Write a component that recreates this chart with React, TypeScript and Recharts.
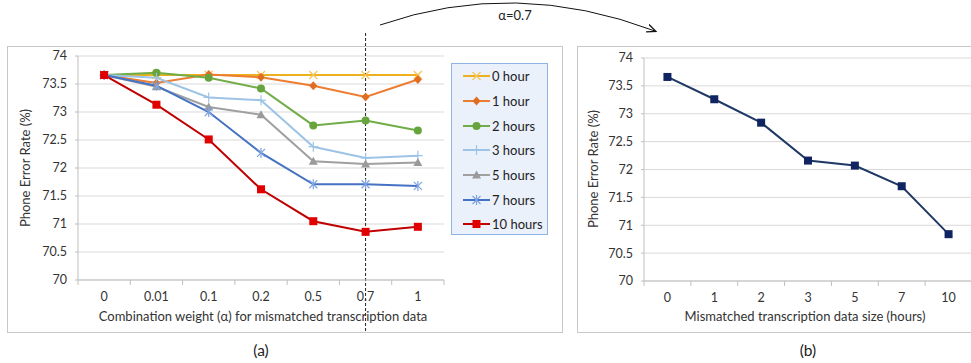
import React from "react";
import { LineChart, Line, XAxis, YAxis, CartesianGrid, ReferenceLine } from "recharts";

const FONT = "Lato, 'Open Sans', sans-serif";

// (a) phone error rate vs combination weight
const alphaLabels = ["0", "0.01", "0.1", "0.2", "0.5", "0.7", "1"];
const hours0 = [73.66, 73.66, 73.66, 73.66, 73.66, 73.66, 73.66];
const hours1 = [73.66, 73.52, 73.67, 73.62, 73.47, 73.27, 73.58];
const hours2 = [73.66, 73.7, 73.61, 73.42, 72.76, 72.85, 72.67];
const hours3 = [73.66, 73.61, 73.26, 73.21, 72.38, 72.18, 72.22];
const hours5 = [73.66, 73.45, 73.09, 72.95, 72.12, 72.07, 72.1];
const hours7 = [73.66, 73.47, 73.0, 72.27, 71.71, 71.71, 71.68];
const hours10 = [73.66, 73.13, 72.51, 71.62, 71.05, 70.86, 70.95];

// (b) phone error rate at alpha = 0.7 vs data size
const sizeLabels = ["0", "1", "2", "3", "5", "7", "10"];
const perAtBest = [73.66, 73.26, 72.84, 72.16, 72.07, 71.7, 70.84];

const yTicks = [70, 70.5, 71, 71.5, 72, 72.5, 73, 73.5, 74];

type MarkerType = "x" | "diamond" | "circle" | "plus" | "triangle" | "star" | "square";

const series: { key: string; name: string; values: number[]; color: string; markColor: string; marker: MarkerType }[] = [
  { key: "h0", name: "0 hour", values: hours0, color: "#EDB120", markColor: "#F5C55A", marker: "x" },
  { key: "h1", name: "1 hour", values: hours1, color: "#ED7D31", markColor: "#E06E22", marker: "diamond" },
  { key: "h2", name: "2 hours", values: hours2, color: "#70AD47", markColor: "#67A43E", marker: "circle" },
  { key: "h3", name: "3 hours", values: hours3, color: "#9DC3E6", markColor: "#9DC3E6", marker: "plus" },
  { key: "h5", name: "5 hours", values: hours5, color: "#A0A0A0", markColor: "#9A9A9A", marker: "triangle" },
  { key: "h7", name: "7 hours", values: hours7, color: "#4472C4", markColor: "#7FA3E0", marker: "star" },
  { key: "h10", name: "10 hours", values: hours10, color: "#C00000", markColor: "#E00000", marker: "square" },
];

const dataA = alphaLabels.map((a, i) => {
  const row: Record<string, string | number> = { alpha: a };
  series.forEach((s) => (row[s.key] = s.values[i]));
  return row;
});

const dataB = sizeLabels.map((s, i) => ({ size: s, per: perAtBest[i] }));

// plot widths, used for Excel-like category spacing
const PLOT_A = 366;
const PLOT_B = 328;
const stepA = PLOT_A / alphaLabels.length;
const stepB = PLOT_B / sizeLabels.length;

function Marker({ type, cx, cy, color }: { type: MarkerType; cx: number; cy: number; color: string }) {
  switch (type) {
    case "x":
      return (
        <g stroke={color} strokeWidth={1.3}>
          <line x1={cx - 4} y1={cy - 4} x2={cx + 4} y2={cy + 4} />
          <line x1={cx - 4} y1={cy + 4} x2={cx + 4} y2={cy - 4} />
        </g>
      );
    case "diamond":
      return <polygon points={`${cx},${cy - 4.5} ${cx + 4},${cy} ${cx},${cy + 4.5} ${cx - 4},${cy}`} fill={color} />;
    case "circle":
      return <circle cx={cx} cy={cy} r={4} fill={color} />;
    case "plus":
      return (
        <g stroke={color} strokeWidth={1.2}>
          <line x1={cx - 5} y1={cy} x2={cx + 5} y2={cy} />
          <line x1={cx} y1={cy - 5} x2={cx} y2={cy + 5} />
        </g>
      );
    case "triangle":
      return <polygon points={`${cx},${cy - 4.5} ${cx + 4.5},${cy + 3.5} ${cx - 4.5},${cy + 3.5}`} fill={color} />;
    case "star":
      return (
        <g stroke={color} strokeWidth={1.2}>
          <line x1={cx - 4} y1={cy - 4} x2={cx + 4} y2={cy + 4} />
          <line x1={cx - 4} y1={cy + 4} x2={cx + 4} y2={cy - 4} />
          <line x1={cx} y1={cy - 5} x2={cx} y2={cy + 5} />
        </g>
      );
    default:
      return <rect x={cx - 4} y={cy - 4} width={8} height={8} fill={color} />;
  }
}

// category ticks with boundary tick marks
function bandTick(step: number, count: number, margin: number) {
  return (props: any) => {
    const { x, y, payload, index } = props;
    const axisY = y - margin;
    return (
      <g>
        <line x1={x - step / 2} x2={x - step / 2} y1={axisY} y2={axisY + 5} stroke="#BFBFBF" />
        {index === count - 1 && <line x1={x + step / 2} x2={x + step / 2} y1={axisY} y2={axisY + 5} stroke="#BFBFBF" />}
        <text x={x} y={y} dy="0.71em" textAnchor="middle" fill="#333" fontSize={12.5} fontFamily={FONT}>
          {payload.value}
        </text>
      </g>
    );
  };
}

function LegendBox() {
  return (
    <div
      style={{
        position: "absolute",
        left: 451,
        top: 63,
        width: 97,
        height: 172,
        boxSizing: "border-box",
        background: "#EBF1FA",
        border: "1px solid #8EB4E3",
        paddingTop: 0,
        paddingLeft: 11,
        fontFamily: FONT,
        fontSize: 13,
        color: "#222",
      }}
    >
      {series.map((s) => (
        <div key={s.key} style={{ height: 24.7, display: "flex", alignItems: "center" }}>
          <svg width={28} height={12} style={{ marginRight: 1 }}>
            <line x1={0} x2={27} y1={6} y2={6} stroke={s.color} strokeWidth={2} />
            <Marker type={s.marker} cx={13.5} cy={6} color={s.markColor} />
          </svg>
          <span>{s.name}</span>
        </div>
      ))}
    </div>
  );
}

const axisText = { fill: "#333", fontSize: 12.5, fontFamily: FONT };

export default function App() {
  return (
    <div style={{ position: "absolute", left: 0, top: 0, width: 971, height: 363, overflow: "hidden", background: "#fff" }}>
      <svg width={971} height={363} style={{ position: "absolute", left: 0, top: 0 }}>
        <rect x={7.5} y={46.5} width={555} height={286} fill="none" stroke="#C8C8C8" />
        <rect x={577.5} y={46.5} width={420} height={286} fill="none" stroke="#C8C8C8" />
      </svg>

      <div style={{ position: "absolute", left: 0, top: 0 }}>
        <LineChart width={562} height={363} data={dataA} margin={{ top: 56, right: 118, bottom: 53, left: 0 }}>
          <CartesianGrid vertical={false} stroke="#D9D9D9" />
          <XAxis
            dataKey="alpha"
            stroke="#BFBFBF"
            tickLine={false}
            tickSize={0}
            tickMargin={12}
            height={30}
            interval={0}
            padding={{ left: stepA / 2, right: stepA / 2 }}
            tick={bandTick(stepA, alphaLabels.length, 12)}
          />
          <YAxis
            domain={[70, 74]}
            ticks={yTicks}
            width={78}
            stroke="#BFBFBF"
            tickSize={3}
            tickMargin={8}
            tick={axisText}
          />
          <ReferenceLine
            x="0.7"
            shape={(p: any) => (
              <line x1={p.x1} x2={p.x2} y1={33} y2={333} stroke="#222" strokeWidth={1} strokeDasharray="3 2" />
            )}
          />
          {series.map((s) => (
            <Line
              key={s.key}
              dataKey={s.key}
              name={s.name}
              stroke={s.color}
              strokeWidth={2}
              isAnimationActive={false}
              dot={(p: any) => <Marker key={`${s.key}-${p.index}`} type={s.marker} cx={p.cx} cy={p.cy} color={s.markColor} />}
              activeDot={false}
            />
          ))}
        </LineChart>
      </div>
      <LegendBox />

      <div style={{ position: "absolute", left: 577, top: 0 }}>
        <LineChart width={396} height={363} data={dataB} margin={{ top: 58, right: 1, bottom: 52, left: 0 }}>
          <CartesianGrid vertical={false} stroke="#D9D9D9" />
          <XAxis
            dataKey="size"
            stroke="#BFBFBF"
            tickLine={false}
            tickSize={0}
            tickMargin={12}
            height={30}
            interval={0}
            padding={{ left: stepB / 2, right: stepB / 2 }}
            tick={bandTick(stepB, sizeLabels.length, 12)}
          />
          <YAxis
            domain={[70, 74]}
            ticks={yTicks}
            width={67}
            stroke="#BFBFBF"
            tickSize={3}
            tickMargin={8}
            tick={axisText}
          />
          <Line
            dataKey="per"
            stroke="#1F3864"
            strokeWidth={2}
            isAnimationActive={false}
            dot={(p: any) => <Marker key={`b-${p.index}`} type="square" cx={p.cx} cy={p.cy} color="#0F2460" />}
            activeDot={false}
          />
        </LineChart>
      </div>

      <svg width={971} height={363} style={{ position: "absolute", left: 0, top: 0, pointerEvents: "none" }} fontFamily={FONT}>
        <defs>
          <marker id="arrowHead" markerWidth={10} markerHeight={10} refX={8} refY={5} orient="auto" markerUnits="userSpaceOnUse">
            <path d="M0,1 L9,5 L0,9" fill="none" stroke="#111" strokeWidth={1.3} />
          </marker>
        </defs>
        <path d="M380,25 Q515,-22 655,31" fill="none" stroke="#111" strokeWidth={1} markerEnd="url(#arrowHead)" />
        <text x={515} y={20} textAnchor="middle" fontSize={13} fill="#222">α=0.7</text>

        <text x={25} y={168} transform="rotate(-90 25 168)" textAnchor="middle" dominantBaseline="central" fontSize={13} fill="#333">
          Phone Error Rate (%)
        </text>
        <text x={263} y={321} textAnchor="middle" fontSize={13} fill="#333">
          Combination weight (α) for mismatched transcription data
        </text>
        <text x={593} y={169} transform="rotate(-90 593 169)" textAnchor="middle" dominantBaseline="central" fontSize={13} fill="#333">
          Phone Error Rate (%)
        </text>
        <text x={805} y={321} textAnchor="middle" fontSize={13} fill="#333">
          Mismatched transcription data size (hours)
        </text>

        <text x={261} y={356} textAnchor="middle" fontSize={15.5} fill="#222">(a)</text>
        <text x={808} y={356} textAnchor="middle" fontSize={15.5} fill="#222">(b)</text>
      </svg>
    </div>
  );
}
